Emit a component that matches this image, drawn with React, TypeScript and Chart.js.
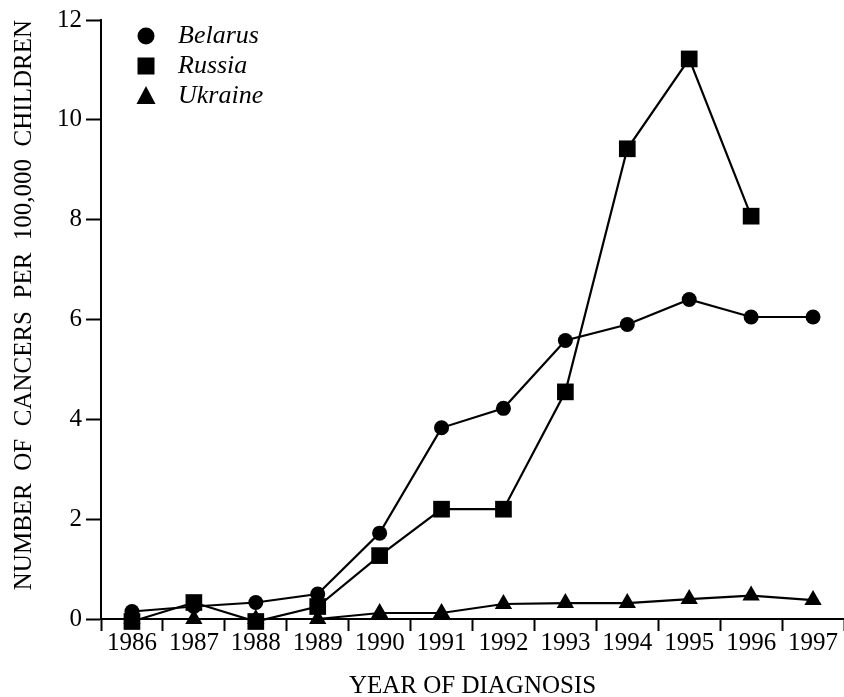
import React, { useEffect, useRef } from "react";
import { Chart, registerables } from "chart.js";

Chart.register(...registerables);

const years = ["1986", "1987", "1988", "1989", "1990", "1991", "1992", "1993", "1994", "1995", "1996", "1997"];
const belarus = [0.15, 0.25, 0.33, 0.5, 1.72, 3.83, 4.22, 5.58, 5.9, 6.4, 6.05, 6.05];
const russia = [-0.05, 0.33, -0.05, 0.25, 1.27, 2.2, 2.2, 4.55, 9.42, 11.22, 8.07, null];
const ukraine = [0, 0, 0, 0, 0.12, 0.12, 0.3, 0.32, 0.32, 0.4, 0.47, 0.38];
const seriesNames = ["Belarus", "Russia", "Ukraine"];
const yTitle = "NUMBER  OF  CANCERS  PER  100,000  CHILDREN";
const xTitle = "YEAR OF DIAGNOSIS";

const SERIF = "'Liberation Serif', 'Times New Roman', serif";

function drawMarker(ctx: CanvasRenderingContext2D, style: string, x: number, y: number) {
  ctx.beginPath();
  if (style === "circle") {
    ctx.arc(x, y, 8.5, 0, Math.PI * 2);
  } else if (style === "rect") {
    ctx.rect(x - 8.5, y - 8.5, 17, 17);
  } else {
    ctx.moveTo(x, y - 10);
    ctx.lineTo(x + 9.5, y + 8);
    ctx.lineTo(x - 9.5, y + 8);
    ctx.closePath();
  }
  ctx.fillStyle = "#000";
  ctx.fill();
}

const legendPlugin = {
  id: "paperLegend",
  afterDraw(chart: any) {
    const ctx = chart.ctx as CanvasRenderingContext2D;
    ctx.save();
    chart.data.datasets.forEach((ds: any, i: number) => {
      const y = 36 + i * 30;
      drawMarker(ctx, ds.pointStyle, 146, y);
      ctx.font = `italic 26px ${SERIF}`;
      ctx.fillStyle = "#000";
      ctx.textBaseline = "middle";
      ctx.textAlign = "left";
      ctx.fillText(ds.label, 178, y);
    });
    ctx.restore();
  },
};

export default function App() {
  const ref = useRef<HTMLCanvasElement | null>(null);
  useEffect(() => {
    document.body.style.margin = "0";
    const canvas = ref.current!;
    const common = {
      borderColor: "#000",
      backgroundColor: "#000",
      pointBackgroundColor: "#000",
      pointBorderColor: "#000",
      borderWidth: 2.2,
      pointBorderWidth: 0,
      clip: false as any,
      spanGaps: false,
    };
    const chart = new Chart(canvas, {
      type: "line",
      data: {
        labels: years,
        datasets: [
          { ...common, label: seriesNames[0], data: belarus, pointStyle: "circle", pointRadius: 7.5 },
          { ...common, label: seriesNames[1], data: russia, pointStyle: "rect", pointRadius: 11.8 },
          { ...common, label: seriesNames[2], data: ukraine, pointStyle: "triangle", pointRadius: 10 },
        ],
      },
      options: {
        animation: false,
        responsive: false,
        maintainAspectRatio: false,
        layout: { autoPadding: false, padding: { top: 20, right: 0, left: 0, bottom: 0 } },
        plugins: {
          legend: { display: false },
          tooltip: { enabled: false },
        },
        scales: {
          x: {
            type: "category",
            offset: true,
            grid: {
              offset: true,
              drawOnChartArea: false,
              drawTicks: true,
              tickLength: 12,
              tickWidth: 2,
              tickColor: "#000",
            },
            border: { display: true, color: "#000", width: 2 },
            ticks: {
              color: "#000",
              font: { family: SERIF, size: 25 },
              padding: -3,
              maxRotation: 0,
              autoSkip: false,
            },
            title: {
              display: true,
              text: xTitle,
              color: "#000",
              font: { family: SERIF, size: 25 },
              padding: { top: 0, bottom: -4 },
            },
            afterFit: (s: any) => {
              s.height = 78;
              s.paddingLeft = 0;
              s.paddingRight = 0;
            },
          },
          y: {
            min: 0,
            max: 12,
            grid: {
              drawOnChartArea: false,
              drawTicks: true,
              tickLength: 15,
              tickWidth: 2,
              tickColor: "#000",
            },
            border: { display: true, color: "#000", width: 2 },
            ticks: {
              stepSize: 2,
              color: "#000",
              font: { family: SERIF, size: 25 },
              padding: 4,
            },
            title: {
              display: true,
              text: yTitle,
              color: "#000",
              align: "end",
              font: { family: SERIF, size: 25 },
              padding: { top: 9, bottom: 0 },
            },
            afterFit: (s: any) => {
              s.width = 101;
            },
          },
        },
      },
      plugins: [legendPlugin],
    });
    return () => chart.destroy();
  }, []);
  return (
    <div style={{ width: 844, height: 697, background: "#fff" }}>
      <canvas ref={ref} width={844} height={697} style={{ display: "block" }} />
    </div>
  );
}
